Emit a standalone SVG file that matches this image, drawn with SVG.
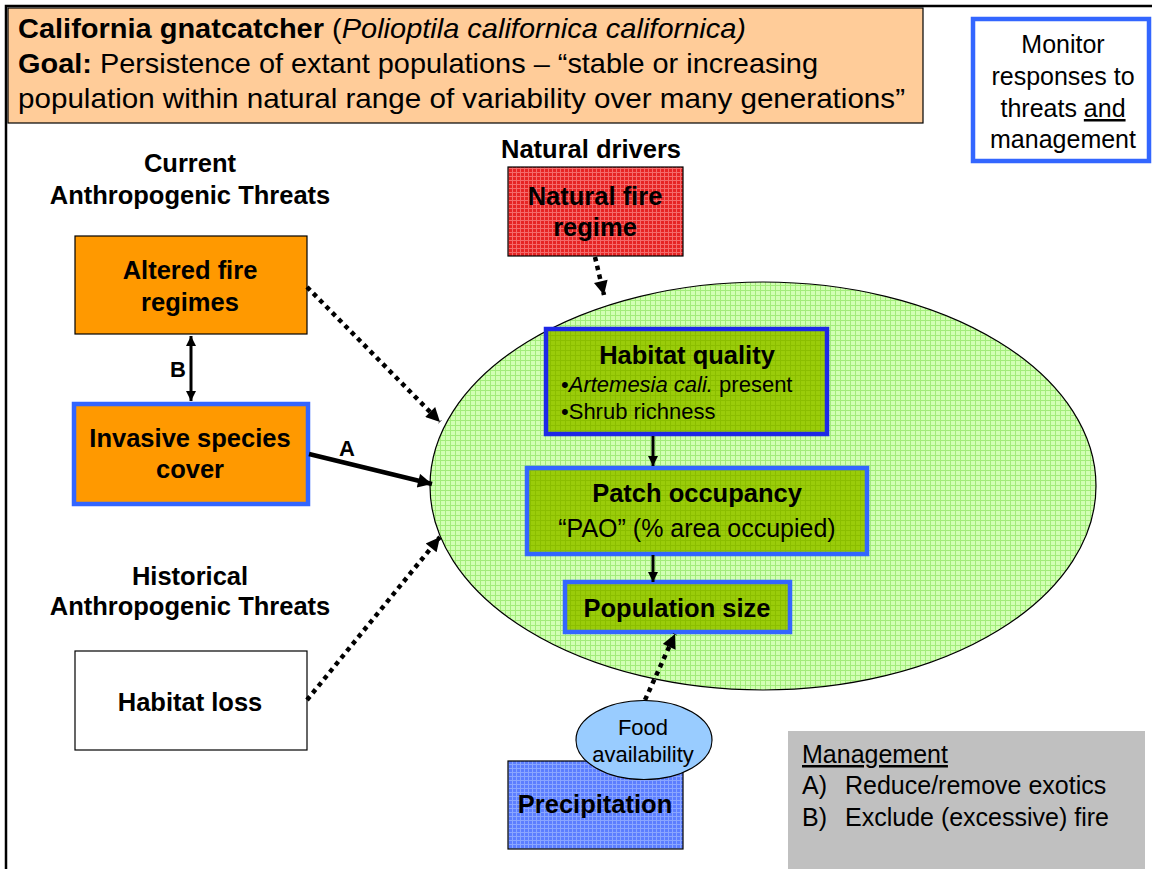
<svg xmlns="http://www.w3.org/2000/svg" width="1152" height="869" viewBox="0 0 1152 869">
  <defs>
    <style>
      text { font-family: "Liberation Sans", Arial, sans-serif; fill: #000; }
      .lbl { font-size: 25.5px; font-weight: bold; text-anchor: middle; }
      .reg { font-size: 25px; text-anchor: middle; }
      .small { font-size: 22px; }
      .title { font-size: 28px; }
      .mgmt { font-size: 25px; }
      .dot { fill: none; stroke: #000; stroke-width: 4.5; stroke-dasharray: 4.5 4.5; }
      .solid { fill: none; stroke: #000; }
      .blue { stroke: #3366FF; stroke-width: 4.5; }
      .thin { stroke: #000; stroke-width: 1.2; }
    </style>
    <!-- fill textures -->
    <pattern id="texGreen" width="5" height="5" patternUnits="userSpaceOnUse">
      <rect width="5" height="5" fill="#D2FFB4"/>
      <path d="M0,0.5 H5 M0.5,0 V5" stroke="#A2EC7A" stroke-width="1"/>
    </pattern>
    <pattern id="texOlive" width="5" height="5" patternUnits="userSpaceOnUse">
      <rect width="5" height="5" fill="#9ACC0A"/>
      <path d="M0,0.5 H5 M0.5,0 V5" stroke="#8BBE00" stroke-width="1"/>
    </pattern>
    <pattern id="texRed" width="4" height="4" patternUnits="userSpaceOnUse">
      <rect width="4" height="4" fill="#E62424"/>
      <path d="M0,0.5 H4 M0.5,0 V4" stroke="#F46A6A" stroke-width="1"/>
    </pattern>
    <pattern id="texBlue" width="4" height="4" patternUnits="userSpaceOnUse">
      <rect width="4" height="4" fill="#5C7EFF"/>
      <path d="M0,0.5 H4 M0.5,0 V4" stroke="#8AA6FF" stroke-width="1"/>
    </pattern>
    <!-- arrowheads -->
    <marker id="headL" viewBox="0 0 10 10" refX="10" refY="5" markerWidth="16" markerHeight="14" markerUnits="userSpaceOnUse" orient="auto">
      <path d="M0,0 L10,5 L0,10 z" fill="#000"/>
    </marker>
    <marker id="headS" viewBox="0 0 10 10" refX="10" refY="5" markerWidth="11" markerHeight="10" markerUnits="userSpaceOnUse" orient="auto">
      <path d="M0,0 L10,5 L0,10 z" fill="#000"/>
    </marker>
    <marker id="headSStart" viewBox="0 0 10 10" refX="0" refY="5" markerWidth="11" markerHeight="10" markerUnits="userSpaceOnUse" orient="auto">
      <path d="M10,0 L0,5 L10,10 z" fill="#000"/>
    </marker>
  </defs>

  <rect width="1152" height="869" fill="#fff"/>

  <!-- page frame -->
  <path d="M6,869 V6 H1152" fill="none" stroke="#000" stroke-width="2.5"/>

  <!-- title banner -->
  <g id="title">
    <rect x="8" y="8" width="915" height="115" fill="#FFCC99" stroke="#000" stroke-width="1.2"/>
    <text class="title" x="18" y="38" textLength="728" lengthAdjust="spacingAndGlyphs"><tspan font-weight="bold">California gnatcatcher</tspan> (<tspan font-style="italic">Polioptila californica californica)</tspan></text>
    <text class="title" x="18" y="73" textLength="800" lengthAdjust="spacingAndGlyphs"><tspan font-weight="bold">Goal:</tspan> Persistence of extant populations – “stable or increasing</text>
    <text class="title" x="18" y="108" textLength="887" lengthAdjust="spacingAndGlyphs">population within natural range of variability over many generations”</text>
  </g>

  <!-- monitoring note -->
  <g id="monitor">
    <rect x="973" y="19" width="176" height="142" fill="#fff" class="blue"/>
    <text class="reg" x="1063" y="53">Monitor</text>
    <text class="reg" x="1063" y="85">responses to</text>
    <text class="reg" x="1063" y="117">threats <tspan text-decoration="underline">and</tspan></text>
    <text class="reg" x="1063" y="148">management</text>
  </g>

  <!-- section headings -->
  <g id="heading-current">
    <text class="lbl" x="190" y="172">Current</text>
    <text class="lbl" x="190" y="204">Anthropogenic Threats</text>
  </g>
  <g id="heading-historical">
    <text class="lbl" x="190" y="585">Historical</text>
    <text class="lbl" x="190" y="615">Anthropogenic Threats</text>
  </g>
  <g id="heading-natural">
    <text class="lbl" x="591" y="158">Natural drivers</text>
  </g>

  <!-- population domain -->
  <g id="population-domain">
    <ellipse cx="763" cy="486" rx="333" ry="204" fill="url(#texGreen)" stroke="#000" stroke-width="1.2"/>
  </g>

  <!-- threats -->
  <g id="altered-fire">
    <rect x="75" y="236" width="232" height="98" fill="#FF9900" class="thin"/>
    <text class="lbl" x="190" y="279">Altered fire</text>
    <text class="lbl" x="190" y="311">regimes</text>
  </g>
  <g id="invasive-species">
    <rect x="74" y="404" width="234" height="100" fill="#FF9900" class="blue"/>
    <text class="lbl" x="190" y="447">Invasive species</text>
    <text class="lbl" x="190" y="478">cover</text>
  </g>
  <g id="habitat-loss">
    <rect x="75" y="651" width="232" height="99" fill="#fff" class="thin"/>
    <text class="lbl" x="190" y="711">Habitat loss</text>
  </g>

  <!-- natural driver -->
  <g id="natural-fire">
    <rect x="508" y="167" width="175" height="89" fill="url(#texRed)" class="thin"/>
    <text class="lbl" x="595" y="205">Natural fire</text>
    <text class="lbl" x="595" y="236">regime</text>
  </g>

  <!-- attributes inside domain -->
  <g id="habitat-quality">
    <rect x="546" y="329" width="281" height="105" fill="url(#texOlive)" stroke="#1E28E6" stroke-width="4.5"/>
    <text class="lbl" x="687" y="364">Habitat quality</text>
    <text class="small" x="561" y="392">•<tspan font-style="italic">Artemesia cali.</tspan> present</text>
    <text class="small" x="561" y="419">•Shrub richness</text>
  </g>
  <g id="patch-occupancy">
    <rect x="527" y="468" width="340" height="86" fill="url(#texOlive)" class="blue"/>
    <text class="lbl" x="697" y="502">Patch occupancy</text>
    <text class="reg" x="697" y="537" font-size="27">“PAO” (% area occupied)</text>
  </g>
  <g id="population-size">
    <rect x="565" y="582" width="225" height="50" fill="url(#texOlive)" class="blue"/>
    <text class="lbl" x="677" y="617">Population size</text>
  </g>

  <!-- precipitation and food -->
  <g id="precipitation">
    <rect x="508" y="761" width="175" height="88" fill="url(#texBlue)" class="thin"/>
    <text class="lbl" x="595" y="813">Precipitation</text>
  </g>
  <g id="food-availability">
    <ellipse cx="644" cy="740" rx="68" ry="39.5" fill="#99CCFF" stroke="#000" stroke-width="1.2"/>
    <text class="small" x="643" y="735" text-anchor="middle">Food</text>
    <text class="small" x="643" y="762" text-anchor="middle">availability</text>
  </g>

  <!-- management actions -->
  <g id="management">
    <rect x="788" y="731" width="357" height="140" fill="#C0C0C0"/>
    <text class="mgmt" x="802" y="763" text-decoration="underline">Management</text>
    <text class="mgmt" x="802" y="794">A)</text>
    <text class="mgmt" x="845" y="794">Reduce/remove exotics</text>
    <text class="mgmt" x="802" y="826">B)</text>
    <text class="mgmt" x="845" y="826">Exclude (excessive) fire</text>
  </g>

  <!-- connectors -->
  <g id="connectors">
    <path class="dot" d="M307,287 L440,422" marker-end="url(#headL)"/>
    <path class="dot" d="M307,700 L440,537" marker-end="url(#headL)"/>
    <path class="dot" d="M595,257 L604,295" marker-end="url(#headL)"/>
    <path class="dot" d="M645,700 L675,634" marker-end="url(#headL)"/>
    <path class="solid" d="M309,454 L432,484" stroke-width="4.5" marker-end="url(#headL)"/>
    <path class="solid" d="M191,336 L191,401" stroke-width="3" marker-start="url(#headSStart)" marker-end="url(#headS)"/>
    <path class="solid" d="M653,436 L653,466" stroke-width="3" marker-end="url(#headS)"/>
    <path class="solid" d="M653,555 L653,582" stroke-width="3" marker-end="url(#headS)"/>
    <text x="347" y="456" font-size="22" font-weight="bold" text-anchor="middle">A</text>
    <text x="178" y="377" font-size="22" font-weight="bold" text-anchor="middle">B</text>
  </g>
</svg>
